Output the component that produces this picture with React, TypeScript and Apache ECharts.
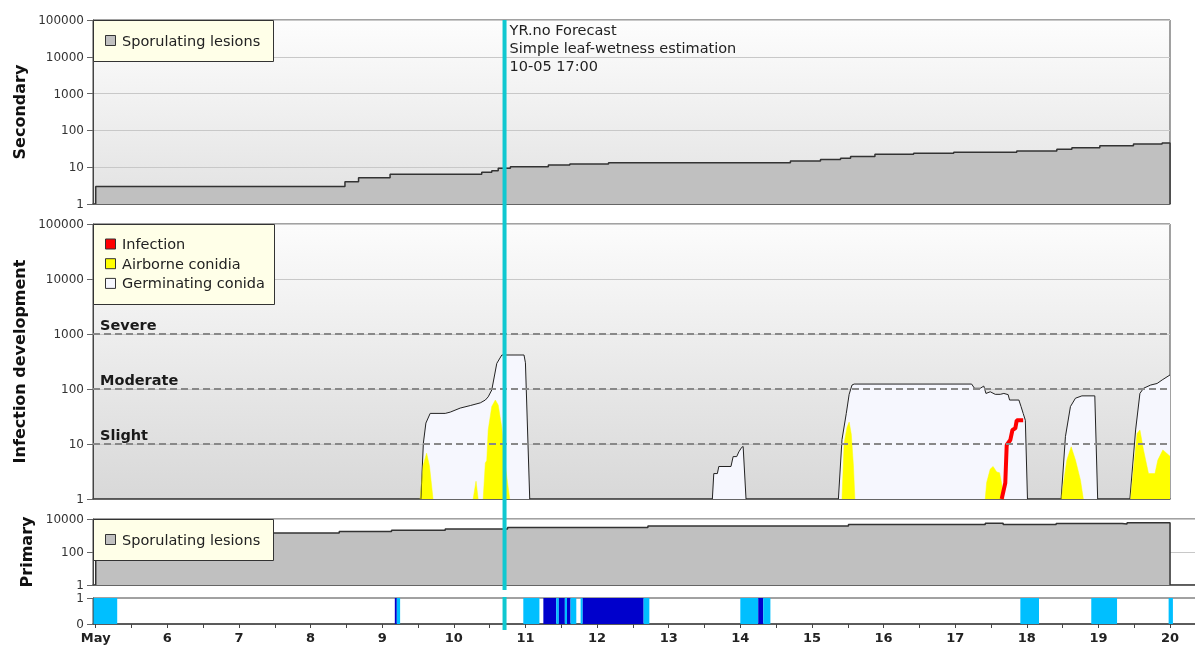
import React, { useEffect, useRef } from 'react';
import * as echarts from 'echarts';

// ---------- x axis (days in May) ----------
const xTickValues = [5, 6, 7, 8, 9, 10, 11, 12, 13, 14, 15, 16, 17, 18, 19, 20];
const xTickLabels = ['May', '6', '7', '8', '9', '10', '11', '12', '13', '14', '15', '16', '17', '18', '19', '20'];
const xHalfDayTicks = [5.5, 6.5, 7.5, 8.5, 9.5, 10.5, 11.5, 12.5, 13.5, 14.5, 15.5, 16.5, 17.5, 18.5, 19.5];

// ---------- Secondary sporulating lesions (step) ----------
const secondaryLesions: [number, number][] = [
  [5.0, 1], [5.0, 3], [8.48, 4], [8.67, 5.2], [9.11, 6.4], [10.39, 7.3], [10.53, 8.0], [10.62, 9.3],
  [10.79, 10.3], [11.32, 11.5], [11.62, 12.2], [12.16, 13.2], [14.70, 14.7], [15.12, 16.3], [15.40, 17.4],
  [15.54, 19.4], [15.88, 22.4], [16.42, 23.9], [16.98, 25.4], [17.86, 27.6], [18.42, 30.7], [18.63, 33.9],
  [19.02, 38.4], [19.49, 42.6], [19.89, 45.5], [20.0, 45.5], [20.0, 1],
];

// ---------- Infection development ----------
const germinatingConidia: [number, number][][] = [
  [[9.54, 1], [9.575, 10.4], [9.61, 24], [9.67, 36], [9.88, 36], [9.95, 38], [10.09, 45], [10.23, 50],
   [10.37, 56], [10.44, 63], [10.48, 72], [10.53, 96], [10.60, 292], [10.67, 415], [10.98, 415],
   [11.0, 300], [11.06, 1]],
  [[13.61, 1], [13.63, 2.9], [13.68, 2.9], [13.70, 3.9], [13.87, 3.9], [13.90, 5.9], [13.95, 5.9],
   [13.98, 7.2], [14.02, 8.7], [14.04, 9], [14.08, 1]],
  [[15.37, 1], [15.42, 12], [15.48, 36], [15.52, 80], [15.56, 118], [15.59, 123], [17.23, 123],
   [17.27, 103], [17.35, 103], [17.40, 113], [17.43, 83], [17.49, 89], [17.56, 80], [17.63, 80],
   [17.68, 83], [17.74, 79], [17.76, 63], [17.89, 63], [17.92, 48], [17.95, 36], [17.98, 27], [18.01, 1]],
  [[18.48, 1], [18.54, 13.6], [18.61, 48], [18.68, 68], [18.77, 75], [18.95, 75], [18.99, 1]],
  [[19.44, 1], [19.52, 18], [19.58, 83], [19.63, 103], [19.73, 118], [19.82, 126], [19.89, 146], [20.0, 180]],
];

const airborneConidia: [number, number][][] = [
  [[9.53, 1], [9.57, 4], [9.62, 6.8], [9.66, 4], [9.71, 1]],
  [[10.27, 1], [10.31, 2.1], [10.34, 1]],
  [[10.41, 1], [10.44, 4.5], [10.46, 5], [10.48, 18], [10.53, 48], [10.58, 63], [10.62, 51], [10.67, 20],
   [10.71, 5], [10.75, 2], [10.78, 1]],
  [[15.42, 1], [15.45, 10.4], [15.49, 20], [15.52, 25], [15.55, 15], [15.58, 4], [15.60, 1]],
  [[17.42, 1], [17.44, 2], [17.49, 3.5], [17.53, 3.9], [17.58, 3.1], [17.62, 3], [17.65, 1.9], [17.68, 1]],
  [[18.48, 1], [18.56, 5.1], [18.62, 8.9], [18.68, 5.1], [18.75, 2.2], [18.79, 1]],
  [[19.45, 1], [19.54, 15.6], [19.58, 18], [19.63, 7.8], [19.70, 2.9], [19.79, 2.9], [19.83, 5.1],
   [19.90, 7.8], [20.0, 6]],
];

const infection: [number, number][] = [
  [17.65, 1], [17.70, 1.95], [17.72, 9.6], [17.77, 11.8], [17.80, 18], [17.84, 19.3], [17.86, 27], [17.95, 27],
];

const riskValues = [1000, 100, 10];
const riskLabels = ['Severe', 'Moderate', 'Slight'];

// ---------- Primary sporulating lesions (step) ----------
const primaryLesions: [number, number][] = [
  [5.0, 1], [5.0, 1400], [8.40, 1750], [9.13, 2100], [9.88, 2500], [10.75, 3100], [12.71, 3700],
  [15.51, 4700], [17.42, 5600], [17.67, 4700], [18.41, 5400], [19.33, 4900], [19.40, 5900], [20.0, 5900], [20.0, 1],
];

// ---------- Leaf wetness (start, end, kind 0 = estimated, 1 = wet) ----------
const leafWetness: [number, number, number][] = [
  [4.97, 5.30, 0], [9.176, 9.204, 1], [9.204, 9.25, 0], [10.97, 11.195, 0], [11.25, 11.43, 1],
  [11.43, 11.466, 0], [11.466, 11.55, 1], [11.55, 11.58, 0], [11.58, 11.63, 1], [11.63, 11.71, 0],
  [11.77, 11.80, 0], [11.80, 12.65, 1], [12.65, 12.73, 0], [14.00, 14.25, 0], [14.25, 14.32, 1],
  [14.32, 14.42, 0], [17.91, 18.17, 0], [18.90, 19.26, 0], [19.98, 20.04, 0],
];

const forecastDay = 10 + 17 / 24;
const forecastText = ['YR.no Forecast', 'Simple leaf-wetness estimation', '10-05 17:00'];

const legendTop = ['Sporulating lesions'];
const legendMiddle = ['Infection', 'Airborne conidia', 'Germinating conida'];
const legendPrimary = ['Sporulating lesions'];

// ---------- styling ----------
const FONT = '"DejaVu Sans", Verdana, sans-serif';
const X_MIN = 4.962;
const X_MAX_TOP = 20;
const X_MAX_BOTTOM = 20.488;
const GREY = '#c0c0c0';
const GERM = '#f6f7fe';
const YELLOW = '#ffff00';
const RED = '#ff0000';
const LIGHT_BLUE = '#00bfff';
const DARK_BLUE = '#0000cc';
const CYAN = '#10c8d0';

const withGaps = (segs: [number, number][][]) => {
  const out: any[] = [];
  segs.forEach((s, i) => {
    if (i > 0) out.push([s[0][0], '-']);
    s.forEach((p) => out.push(p));
  });
  return out;
};

const grad = (a: string, b: string) =>
  new echarts.graphic.LinearGradient(0, 0, 0, 1, [
    { offset: 0, color: a },
    { offset: 1, color: b },
  ]);

const intLabel = (v: number) => String(Math.round(v));

const makeX = (gi: number, max: number, showLabels: boolean) => ({
  type: 'value',
  gridIndex: gi,
  min: X_MIN,
  max,
  axisLine: { show: true, onZero: false, lineStyle: { color: '#444', width: 1.5 } },
  axisTick: showLabels
    ? { show: true, customValues: [...xTickValues, ...xHalfDayTicks], length: 4, lineStyle: { color: '#444' } }
    : { show: false },
  axisLabel: showLabels
    ? {
        show: true,
        customValues: xTickValues,
        formatter: (v: number) => {
          const i = xTickValues.indexOf(Math.round(v));
          return i >= 0 ? xTickLabels[i] : '';
        },
        fontWeight: 'bold',
        fontSize: 13,
        fontFamily: FONT,
        color: '#222',
        margin: 7,
      }
    : { show: false },
  splitLine: { show: false },
});

const yName = (name: string, gap: number) => ({
  name,
  nameLocation: 'middle',
  nameRotate: 90,
  nameGap: gap,
  nameTextStyle: { fontWeight: 'bold', fontSize: 16, fontFamily: FONT, color: '#111' },
});

const yCommon = {
  axisLine: { show: true, lineStyle: { color: '#444' } },
  axisTick: { show: true, length: 6, lineStyle: { color: '#666' } },
  axisLabel: { fontSize: 12, fontFamily: FONT, color: '#333', margin: 9, formatter: intLabel },
  splitLine: { show: true, lineStyle: { color: '#c8c8c8', width: 1 } },
};

const gridBase = { show: true, borderColor: '#444', borderWidth: 1, outerBoundsMode: 'none', containLabel: false };

const option: any = {
  animation: false,
  textStyle: { fontFamily: FONT },
  grid: [
    { ...gridBase, left: 93, top: 20, width: 1077, height: 184, backgroundColor: grad('#fdfdfd', '#e2e2e2') },
    { ...gridBase, left: 93, top: 224, width: 1077, height: 275, backgroundColor: grad('#fcfcfc', '#d8d8d8') },
    { ...gridBase, left: 93, top: 519, width: 1112, height: 66, backgroundColor: '#ffffff' },
    { ...gridBase, left: 93, top: 598, width: 1112, height: 26, backgroundColor: '#ffffff' },
  ],
  xAxis: [makeX(0, X_MAX_TOP, false), makeX(1, X_MAX_TOP, false), makeX(2, X_MAX_BOTTOM, false), makeX(3, X_MAX_BOTTOM, true)],
  yAxis: [
    { type: 'log', gridIndex: 0, min: 1, max: 100000, logBase: 10, splitNumber: 5, ...yName('Secondary', 66), ...yCommon },
    { type: 'log', gridIndex: 1, min: 1, max: 100000, logBase: 10, splitNumber: 5, ...yName('Infection development', 66), ...yCommon },
    { type: 'log', gridIndex: 2, min: 1, max: 10000, logBase: 100, splitNumber: 2, ...yName('Primary', 58), ...yCommon },
    {
      type: 'value', gridIndex: 3, min: 0, max: 1, interval: 1,
      ...yCommon,
      splitLine: { show: false },
    },
  ],
  series: [
    {
      type: 'line', name: 'Secondary sporulating lesions', xAxisIndex: 0, yAxisIndex: 0, step: 'end',
      data: secondaryLesions, symbol: 'none', silent: true,
      lineStyle: { color: '#333', width: 1.5 }, areaStyle: { color: GREY, opacity: 1, origin: 'start' },
    },
    {
      type: 'line', name: 'Germinating conida', xAxisIndex: 1, yAxisIndex: 1, data: withGaps(germinatingConidia),
      symbol: 'none', silent: true, connectNulls: false,
      lineStyle: { color: '#222', width: 1 }, areaStyle: { color: GERM, opacity: 1, origin: 'start' },
    },
    {
      type: 'line', name: 'Airborne conidia', xAxisIndex: 1, yAxisIndex: 1, data: withGaps(airborneConidia),
      symbol: 'none', silent: true, connectNulls: false,
      lineStyle: { color: YELLOW, width: 0.5 }, areaStyle: { color: YELLOW, opacity: 1, origin: 'start' },
    },
    {
      type: 'line', name: 'Infection', xAxisIndex: 1, yAxisIndex: 1, data: infection,
      symbol: 'none', silent: true, z: 4,
      lineStyle: { color: RED, width: 4 },
    },
    {
      type: 'line', name: 'Risk levels', xAxisIndex: 1, yAxisIndex: 1, data: [], z: 3, silent: true,
      markLine: {
        silent: true, symbol: 'none', animation: false,
        lineStyle: { type: [7, 4], color: '#888', width: 2 },
        label: {
          show: true, position: 'insideStartTop', formatter: '{b}', distance: [7, 2],
          fontWeight: 'bold', fontSize: 14.5, fontFamily: FONT, color: '#1a1a1a',
        },
        data: riskValues.map((v, i) => ({ yAxis: v, name: riskLabels[i] })),
      },
    },
    {
      type: 'line', name: 'Primary sporulating lesions', xAxisIndex: 2, yAxisIndex: 2, step: 'end',
      data: primaryLesions, symbol: 'none', silent: true,
      lineStyle: { color: '#333', width: 1.5 }, areaStyle: { color: GREY, opacity: 1, origin: 'start' },
    },
    {
      type: 'custom', name: 'Leaf wetness', xAxisIndex: 3, yAxisIndex: 3, data: leafWetness, silent: true,
      clip: true,
      encode: { x: [0, 1] },
      renderItem: (params: any, api: any) => {
        const a = api.coord([api.value(0), 1]);
        const b = api.coord([api.value(1), 0]);
        return {
          type: 'rect',
          shape: { x: a[0], y: a[1], width: b[0] - a[0], height: b[1] - a[1] },
          style: { fill: api.value(2) ? DARK_BLUE : LIGHT_BLUE },
        };
      },
    },
  ],
};

const legendGraphic = (x: number, y: number, w: number, h: number, names: string[], colors: string[], firstY: number, gap: number) => {
  const els: any[] = [
    { type: 'rect', z: 100, shape: { x: x + 0.5, y: y + 0.5, width: w, height: h }, style: { fill: '#ffffe8', stroke: '#333', lineWidth: 1 } },
  ];
  names.forEach((n, i) => {
    const cy = firstY + i * gap;
    els.push({ type: 'rect', z: 101, shape: { x: x + 12.5, y: cy - 5, width: 10, height: 10 }, style: { fill: colors[i], stroke: '#333', lineWidth: 1 } });
    els.push({
      type: 'text', z: 101, x: x + 29, y: cy,
      style: { text: n, fill: '#222', fontSize: 14.5, fontFamily: FONT, verticalAlign: 'middle', align: 'left' },
    });
  });
  return els;
};

export default function App() {
  const ref = useRef<HTMLDivElement>(null);
  useEffect(() => {
    if (!ref.current) return;
    const chart = echarts.init(ref.current, null, { renderer: 'svg' });
    chart.setOption(option);
    const mx = chart.convertToPixel({ xAxisIndex: 0 }, forecastDay) as number;
    const yTop = chart.convertToPixel({ yAxisIndex: 0 }, 100000) as number;
    const yBot = chart.convertToPixel({ yAxisIndex: 2 }, 1) as number;
    const wTop = chart.convertToPixel({ yAxisIndex: 3 }, 1) as number;
    const wBot = chart.convertToPixel({ yAxisIndex: 3 }, 0) as number;
    const g0x = chart.convertToPixel({ xAxisIndex: 0 }, X_MIN) as number;
    const g1y = chart.convertToPixel({ yAxisIndex: 1 }, 100000) as number;
    const g2y = chart.convertToPixel({ yAxisIndex: 2 }, 10000) as number;
    const graphic: any[] = [
      ...legendGraphic(g0x, yTop, 180, 41, legendTop, [GREY], yTop + 20.5, 0),
      ...legendGraphic(g0x, g1y, 181, 80, legendMiddle, [RED, YELLOW, GERM], g1y + 20, 19.7),
      ...legendGraphic(g0x, g2y, 180, 41, legendPrimary, [GREY], g2y + 20.5, 0),
      { type: 'line', z: 90, shape: { x1: mx, y1: yTop, x2: mx, y2: yBot + 5 }, style: { stroke: CYAN, lineWidth: 4 } },
      { type: 'line', z: 90, shape: { x1: mx, y1: wTop - 1, x2: mx, y2: wBot + 6 }, style: { stroke: CYAN, lineWidth: 4 } },
      ...forecastText.map((t, i) => ({
        type: 'text', z: 101, x: mx + 5, y: yTop + 10 + i * 18,
        style: { text: t, fill: '#222', fontSize: 14.5, fontFamily: FONT, verticalAlign: 'middle', align: 'left' },
      })),
    ];
    chart.setOption({ graphic });
    return () => chart.dispose();
  }, []);
  return <div ref={ref} style={{ position: 'fixed', left: 0, top: 0, width: 1195, height: 646 }} />;
}
